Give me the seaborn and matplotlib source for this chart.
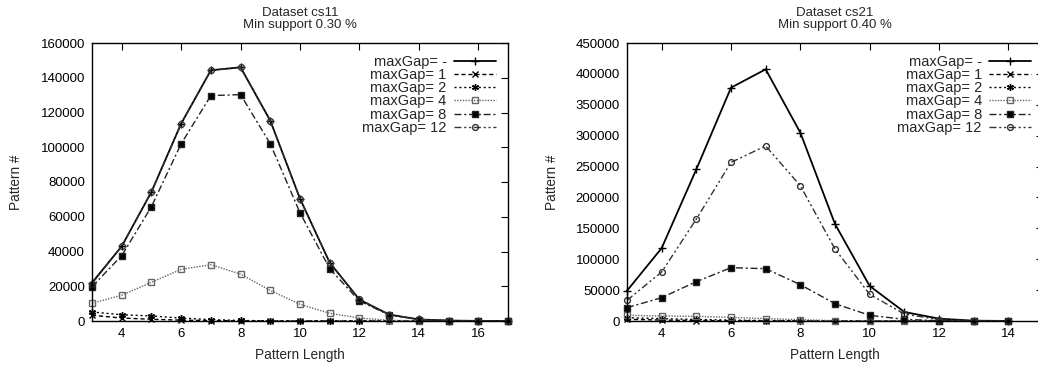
import matplotlib
matplotlib.use("Agg")
import matplotlib.pyplot as plt
import seaborn as sns
import numpy as np
import pandas as pd

sns.set_theme(style="white")
plt.rcParams['font.family'] = ['Liberation Sans', 'DejaVu Sans']

labels = ["maxGap= -", "maxGap= 1", "maxGap= 2", "maxGap= 4", "maxGap= 8", "maxGap= 12"]

# Dataset cs11
x_cs11 = [3, 4, 5, 6, 7, 8, 9, 10, 11, 12, 13, 14, 15, 16, 17]
cs11_none = [22000, 43000, 74300, 113600, 144300, 146000, 115300, 70400, 33600, 12300, 3700, 900, 250, 60, 10]
cs11_g1 = [3300, 1700, 1000, 500, 200, 100, 40, 15, 5, 2, 1, 0, 0, 0, 0]
cs11_g2 = [5200, 3600, 2900, 1700, 800, 300, 100, 40, 15, 5, 2, 0, 0, 0, 0]
cs11_g4 = [10200, 14800, 22300, 29700, 32400, 27000, 17600, 9600, 4400, 1700, 400, 100, 30, 5, 0]
cs11_g8 = [19800, 37600, 65800, 102000, 129700, 130300, 102000, 62300, 30100, 11500, 3500, 800, 200, 50, 5]
cs11_g12 = [21500, 43000, 74300, 113600, 144300, 146000, 115300, 70400, 33600, 12500, 3600, 900, 250, 60, 10]

# Dataset cs21
x_cs21 = [3, 4, 5, 6, 7, 8, 9, 10, 11, 12, 13, 14]
cs21_none = [49000, 118000, 245500, 377700, 407400, 304900, 157000, 56700, 14600, 3800, 500, 100]
cs21_g1 = [2700, 1500, 800, 400, 200, 100, 50, 20, 5, 0, 0, 0]
cs21_g2 = [5400, 3800, 2500, 1500, 800, 400, 150, 50, 10, 0, 0, 0]
cs21_g4 = [9200, 8100, 7500, 5900, 3800, 2200, 500, 200, 100, 20, 0, 0]
cs21_g8 = [21600, 37800, 63700, 86300, 84700, 58800, 28000, 9200, 2700, 500, 100, 20]
cs21_g12 = [33500, 79300, 165000, 256800, 283300, 219000, 116500, 43200, 11300, 2200, 300, 50]

styles = [
    dict(color="black", linestyle="-", marker="+", mfc="black", lw=1.3, ms=5.5),
    dict(color="black", linestyle=(0, (3, 2)), marker="x", mfc="black", lw=1.0, ms=4),
    dict(color="black", linestyle=(0, (1.5, 2)), marker=(6, 2, 0), mfc="black", lw=1.0, ms=5),
    dict(color="#666666", linestyle=(0, (1, 1)), marker="s", mfc="none", lw=1.0, ms=4.2),
    dict(color="#222222", linestyle=(0, (5, 2, 1.5, 2)), marker="s", mfc="black", lw=1.0, ms=4.5),
    dict(color="#333333", linestyle=(0, (5, 2, 1.5, 2, 1.5, 2)), marker="o", mfc="none", lw=1.0, ms=4.2),
]

W, H = 1038, 369
fig = plt.figure(figsize=(W / 100, H / 100), dpi=100)
ax1 = fig.add_axes([92 / W, 1 - 321 / H, 416 / W, 278 / H])
ax2 = fig.add_axes([627 / W, 1 - 321 / H, 416 / W, 278 / H])

panels = [
    (ax1, x_cs11, [cs11_none, cs11_g1, cs11_g2, cs11_g4, cs11_g8, cs11_g12],
     "Dataset cs11\nMin support 0.30 %", (3, 17), np.arange(4, 17, 2), 160000, 20000, 13),
    (ax2, x_cs21, [cs21_none, cs21_g1, cs21_g2, cs21_g4, cs21_g8, cs21_g12],
     "Dataset cs21\nMin support 0.40 %", (3, 15), np.arange(4, 15, 2), 450000, 50000, 12),
]

fs = 9.5
for ax, xs, series, title, xlim, xticks, ymax, ystep, ylp in panels:
    for lab, ys, st in zip(labels, series, styles):
        df = pd.DataFrame({"x": xs, "y": ys})
        sns.lineplot(data=df, x="x", y="y", ax=ax, label=lab,
                     color=st["color"], linestyle=st["linestyle"], linewidth=st["lw"],
                     marker=st["marker"], markersize=st["ms"], markerfacecolor=st["mfc"],
                     markeredgecolor=st["color"], markeredgewidth=1.0, clip_on=False)
    ax.set_xlim(*xlim)
    ax.set_ylim(0, ymax)
    ax.set_xticks(xticks)
    ax.set_yticks(np.arange(0, ymax + 1, ystep))
    ax.set_yticklabels([str(int(v)) for v in np.arange(0, ymax + 1, ystep)])
    ax.tick_params(direction="in", length=5, width=0.8, top=True, right=True,
                   labelsize=fs, colors="black", pad=5)
    for sp in ax.spines.values():
        sp.set_color("black")
        sp.set_linewidth(1.0)
    ax.set_xlabel("Pattern Length", fontsize=fs + 0.3, labelpad=6)
    ax.set_ylabel("Pattern #", fontsize=fs + 0.3, labelpad=ylp)
    ax.set_title(title, fontsize=fs, pad=11, linespacing=1.0)
    leg = ax.legend(loc="upper right", frameon=False, markerfirst=False,
                    prop={"size": fs + 1.0}, handlelength=2.9, handletextpad=0.5,
                    labelspacing=-0.05, borderaxespad=0.4)

fig.savefig("out.png", dpi=100)
